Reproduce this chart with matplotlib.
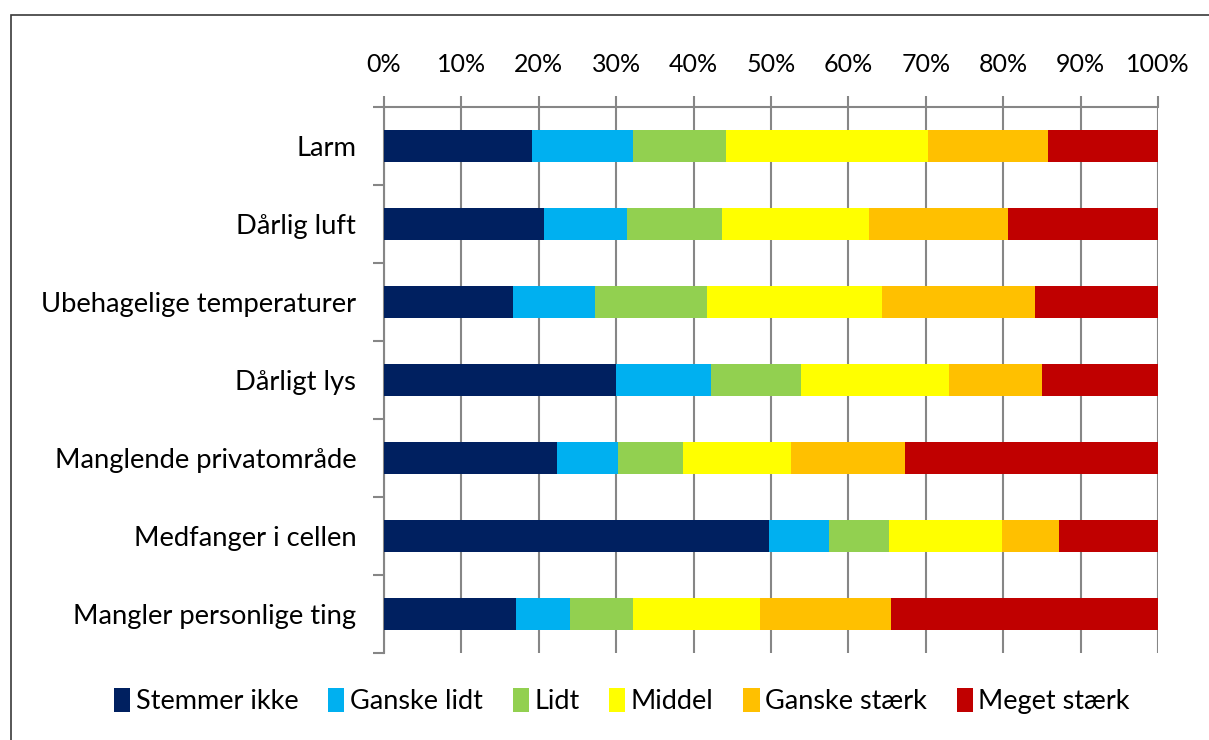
import numpy as np
import matplotlib.pyplot as plt
from matplotlib.patches import Rectangle

categories = ['Larm', 'Dårlig luft', 'Ubehagelige temperaturer', 'Dårligt lys',
              'Manglende privatområde', 'Medfanger i cellen', 'Mangler personlige ting']
series_names = ['Stemmer ikke', 'Ganske lidt', 'Lidt', 'Middel', 'Ganske stærk', 'Meget stærk']
colors = ['#002060', '#00B0F0', '#92D050', '#FFFF00', '#FFC000', '#C00000']

stemmer_ikke = [19.1, 20.7, 16.7, 30.0, 22.4, 49.8, 17.1]
ganske_lidt = [13.1, 10.7, 10.6, 12.3, 7.8, 7.7, 6.9]
lidt = [12.0, 12.3, 14.4, 11.6, 8.4, 7.8, 8.2]
middel = [26.1, 18.9, 22.6, 19.1, 14.0, 14.6, 16.4]
ganske_staerk = [15.5, 18.0, 19.8, 12.0, 14.7, 7.3, 16.9]
meget_staerk = [14.2, 19.4, 15.9, 15.0, 32.7, 12.8, 34.5]

data = [stemmer_ikke, ganske_lidt, lidt, middel, ganske_staerk, meget_staerk]

plt.rcParams['font.family'] = ['Lato', 'DejaVu Sans']

fig = plt.figure(figsize=(12.09, 7.4), dpi=100)
ax = fig.add_axes([384 / 1209, 1 - 653 / 740, 774 / 1209, 546 / 740])

y = np.arange(len(categories))
left = np.zeros(len(categories))
for name, vals, c in zip(series_names, data, colors):
    vals = np.array(vals)
    ax.barh(y, vals, left=left, height=0.4, color=c, label=name, zorder=3)
    left += vals

ax.set_xlim(0, 100)
ax.set_ylim(len(categories) - 0.5, -0.5)
ax.xaxis.tick_top()
ax.set_xticks(np.arange(0, 101, 10))
ax.set_xticklabels([f'{v}%' for v in range(0, 101, 10)], fontsize=18)
ax.tick_params(axis='x', length=8, width=1.5, color='#868686', pad=14, direction='out')
ax.grid(axis='x', color='#868686', linewidth=1.5, zorder=0)

ax.set_yticks(y)
ax.set_yticklabels(categories, fontsize=19.7)
ax.set_yticks(np.arange(-0.5, len(categories) + 0.5, 1), minor=True)
ax.tick_params(axis='y', which='major', length=0, pad=20)
ax.tick_params(axis='y', which='minor', length=8, width=1.5, color='#868686')

for s in ['right', 'bottom']:
    ax.spines[s].set_visible(False)
for s in ['left', 'top']:
    ax.spines[s].set_color('#868686')
    ax.spines[s].set_linewidth(1.5)

leg = fig.legend(loc='center', bbox_to_anchor=(622 / 1209, 1 - 701 / 740), ncol=6,
                 frameon=False, fontsize=19.5, handlelength=0.6, handleheight=1.0,
                 handletextpad=0.2, columnspacing=1.1)

fig.patches.append(Rectangle((11 / 1209, -0.1), 1.2, 1.1 - 15 / 740, transform=fig.transFigure,
                             fill=False, edgecolor='#3a3a3a', linewidth=1.2))

fig.savefig('out.png', dpi=100)
